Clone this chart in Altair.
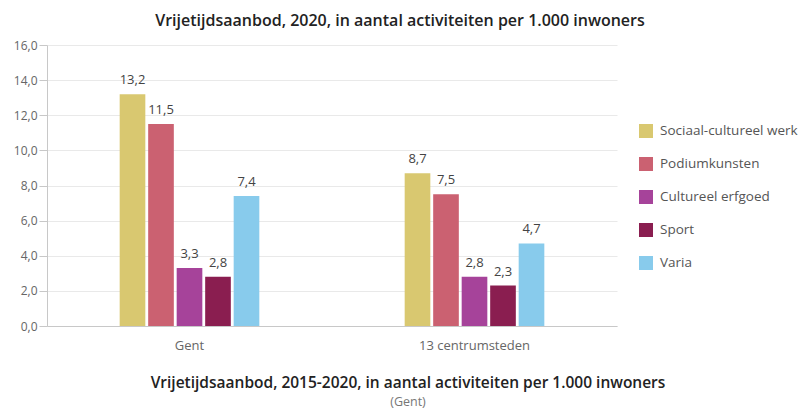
import altair as alt
import pandas as pd

regions = ["Gent", "13 centrumsteden"]
series = ["Sociaal-cultureel werk", "Podiumkunsten", "Cultureel erfgoed", "Sport", "Varia"]
colors = ["#D9C870", "#CB6171", "#A6439A", "#8A1E50", "#88CBEC"]
values_gent = [13.2, 11.5, 3.3, 2.8, 7.4]
values_13 = [8.7, 7.5, 2.8, 2.3, 4.7]
y_ticks = [0, 2, 4, 6, 8, 10, 12, 14, 16]

title_top = "Vrijetijdsaanbod, 2020, in aantal activiteiten per 1.000 inwoners"
title_bottom = "Vrijetijdsaanbod, 2015-2020, in aantal activiteiten per 1.000 inwoners"
subtitle_bottom = "(Gent)"

rows = []
for s, v in zip(series, values_gent):
    rows.append({"regio": regions[0], "soort": s, "waarde": v})
for s, v in zip(series, values_13):
    rows.append({"regio": regions[1], "soort": s, "waarde": v})
df = pd.DataFrame(rows)
df["label"] = df["waarde"].map(lambda v: f"{v:.1f}".replace(".", ","))

FONT = "Open Sans"

x_axis = alt.Axis(title=None, labelAngle=0, ticks=False, labelPadding=13,
                  labelFontSize=13, labelColor="#666", labelFont=FONT,
                  domainColor="#c8c8c8", grid=False)
y_axis = alt.Axis(title=None, values=y_ticks, labelOverlap=False,
                  labelExpr="replace(format(datum.value, '.1f'), '.', ',')",
                  labelFontSize=12, labelColor="#666", labelFont=FONT,
                  tickColor="#c8c8c8", tickSize=8, labelPadding=2,
                  domainColor="#c8c8c8", gridColor="#e9e9e9")
x_scale = alt.Scale(paddingInner=0.5, paddingOuter=0.25)
xoff_scale = alt.Scale(paddingInner=0.1, paddingOuter=0.05)
y_scale = alt.Scale(domain=[0, 16])

bars = alt.Chart(df).mark_bar().encode(
    x=alt.X("regio:N", sort=regions, scale=x_scale, axis=x_axis),
    xOffset=alt.XOffset("soort:N", sort=series, scale=xoff_scale),
    y=alt.Y("waarde:Q", scale=y_scale, axis=y_axis),
    color=alt.Color("soort:N", sort=series,
                    scale=alt.Scale(domain=series, range=colors),
                    legend=alt.Legend(title=None, orient="none", legendX=592, legendY=79,
                                      symbolType="square", symbolSize=196,
                                      symbolStrokeWidth=0, rowPadding=19,
                                      labelOffset=7, labelFontSize=13.5,
                                      labelColor="#555", labelFont=FONT, padding=0)),
)

labels = alt.Chart(df).mark_text(baseline="bottom", dy=-7, fontSize=13,
                                 color="#444", font=FONT).encode(
    x=alt.X("regio:N", sort=regions, scale=x_scale, axis=x_axis),
    xOffset=alt.XOffset("soort:N", sort=series, scale=xoff_scale),
    y=alt.Y("waarde:Q", scale=y_scale, axis=y_axis),
    text="label:N",
)

bottom_df = pd.DataFrame({"t": [title_bottom]})
bottom1 = alt.Chart(bottom_df).mark_text(fontSize=15.5, fontWeight=600, color="#222",
                                         font=FONT, baseline="middle").encode(
    x=alt.value(361), y=alt.value(338), text="t:N")
sub_df = pd.DataFrame({"t": [subtitle_bottom]})
bottom2 = alt.Chart(sub_df).mark_text(fontSize=12.5, color="#777",
                                      font=FONT, baseline="middle").encode(
    x=alt.value(361), y=alt.value(357), text="t:N")

chart = alt.layer(bars, labels, bottom1, bottom2).properties(
    width=570, height=281,
    autosize=alt.AutoSizeParams(type="none"),
    padding={"left": 39, "top": 37, "right": 181, "bottom": 84},
    title=alt.TitleParams(title_top, anchor="middle", dx=68, offset=10,
                          fontSize=16, fontWeight=600, font=FONT, color="#222"),
).configure_view(stroke=None)

chart.save("out.html", embed_options={"renderer": "svg", "actions": False})
